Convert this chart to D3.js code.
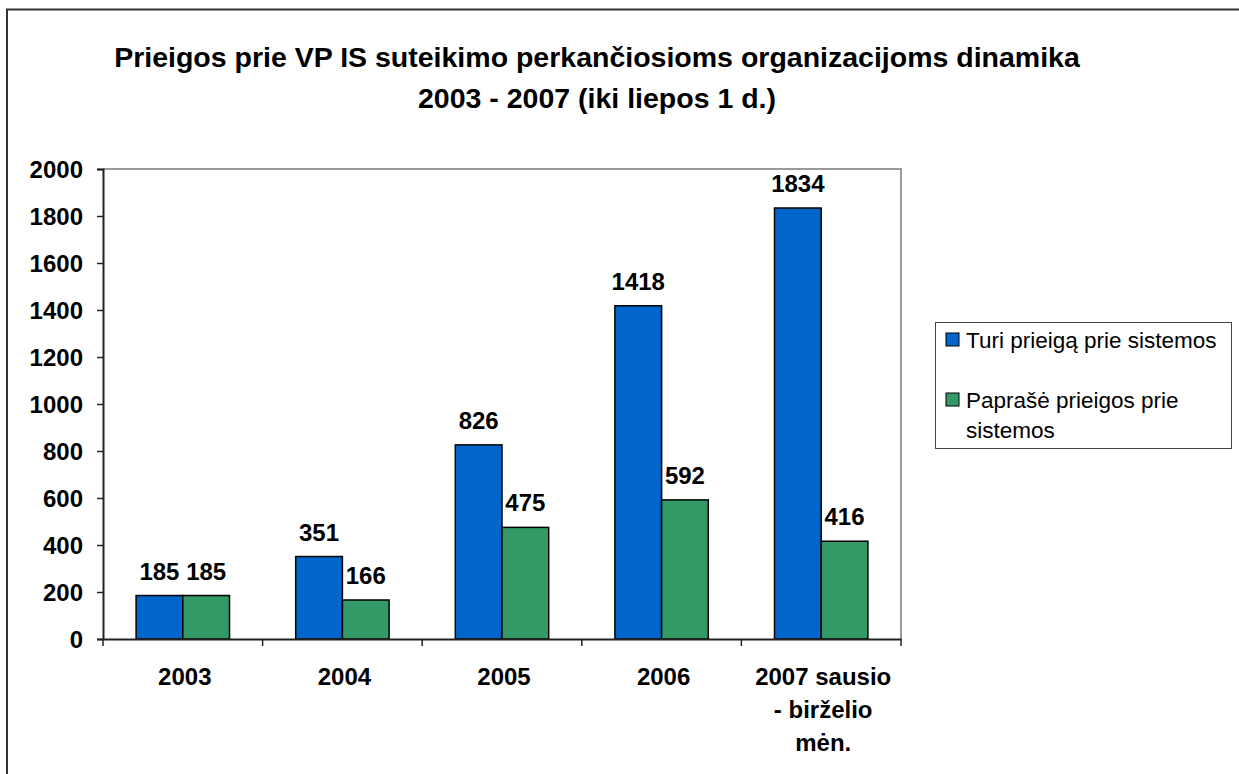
<!DOCTYPE html>
<html lang="lt">
<head>
<meta charset="UTF-8">
<title>Prieigos prie VP IS suteikimo dinamika</title>
<script src="https://d3js.org/d3.v7.min.js"></script>
<style>
    body { margin: 0; background: #fff; font-family: Arial, "Liberation Sans", sans-serif; }
    .tick text { font-weight: bold; font-size: 24px; fill: #000; }
    .label { font-weight: bold; font-size: 24px; text-anchor: middle; }
    .title { font-weight: bold; font-size: 28.5px; text-anchor: middle; }
    .legend text { font-size: 22.5px; }
</style>
</head>
<body>
<svg id="svg" width="1239" height="774"></svg>
<script>
    // data
    const categories = ["2003", "2004", "2005", "2006", "2007 sausio - birželio mėn."];
    const catLines = [["2003"], ["2004"], ["2005"], ["2006"], ["2007 sausio", "- birželio", "mėn."]];
    const seriesNames = ["Turi prieigą prie sistemos", "Paprašė prieigos prie sistemos"];
    const turi = [185, 351, 826, 1418, 1834];
    const paprase = [185, 166, 475, 592, 416];
    const yTicks = [0, 200, 400, 600, 800, 1000, 1200, 1400, 1600, 1800, 2000];
    const colors = ["#0066CC", "#339966"];

    const svg = d3.select("#svg");
    const plot = { left: 103, top: 169, right: 901, bottom: 639 };

    // outer frame
    svg.append("rect")
        .attr("x", 7).attr("y", 9.5)
        .attr("width", 1260).attr("height", 800)
        .attr("fill", "none").attr("stroke", "#333").attr("stroke-width", 2);

    // title
    svg.append("text").attr("class", "title").attr("x", 597).attr("y", 67)
        .text("Prieigos prie VP IS suteikimo perkančiosioms organizacijoms dinamika");
    svg.append("text").attr("class", "title").attr("x", 597).attr("y", 108)
        .text("2003 - 2007 (iki liepos 1 d.)");

    const x = d3.scaleBand().domain(categories).range([plot.left, plot.right]);
    const y = d3.scaleLinear().domain([0, 2000]).range([plot.bottom, plot.top]);

    const barW = 46.7;
    const offset = (x.bandwidth() - 2 * barW) / 2;

    // plot frame (top and right, gray)
    svg.append("path")
        .attr("d", `M${plot.left},${plot.top}H${plot.right}V${plot.bottom}`)
        .attr("fill", "none").attr("stroke", "#999").attr("stroke-width", 2);

    const table = categories.map((c, i) => ({ cat: c, values: [turi[i], paprase[i]] }));

    const groups = svg.append("g").selectAll("g")
        .data(table).enter().append("g");

    groups.selectAll("rect")
        .data(d => d.values.map((v, j) => ({ cat: d.cat, v, j })))
        .enter().append("rect")
        .attr("x", d => x(d.cat) + offset + d.j * barW)
        .attr("y", d => y(d.v))
        .attr("width", barW)
        .attr("height", d => y(0) - y(d.v))
        .attr("fill", d => colors[d.j])
        .attr("stroke", "#000").attr("stroke-width", 1.5);

    groups.selectAll("text")
        .data(d => d.values.map((v, j) => ({ cat: d.cat, v, j })))
        .enter().append("text")
        .attr("class", "label")
        .attr("x", d => x(d.cat) + offset + d.j * barW + barW / 2)
        .attr("y", d => y(d.v) - 16)
        .text(d => d.v);

    // y axis
    const yAxis = svg.append("g")
        .attr("transform", `translate(${plot.left},0)`)
        .call(d3.axisLeft(y).tickValues(yTicks).tickFormat(d3.format("d")).tickSize(6).tickPadding(14));
    yAxis.select(".domain").attr("stroke", "#222").attr("stroke-width", 2);
    yAxis.selectAll(".tick line").attr("stroke", "#222").attr("stroke-width", 1.5);
    yAxis.selectAll(".tick text").attr("dy", "0.36em");

    // x axis
    const xAxis = svg.append("g")
        .attr("transform", `translate(0,${plot.bottom})`)
        .call(d3.axisBottom(x).tickSize(0).tickFormat(""));
    xAxis.select(".domain").attr("stroke", "#222").attr("stroke-width", 2);
    xAxis.selectAll(".sep")
        .data(categories.concat(["end"]))
        .enter().append("line")
        .attr("x1", (d, i) => plot.left + i * x.step())
        .attr("x2", (d, i) => plot.left + i * x.step())
        .attr("y1", 0).attr("y2", 7)
        .attr("stroke", "#222").attr("stroke-width", 1.5);

    categories.forEach((c, i) => {
        catLines[i].forEach((line, k) => {
            svg.append("text").attr("class", "label")
                .attr("x", x(c) + x.bandwidth() / 2 + 2)
                .attr("y", 685 + k * 33)
                .text(line);
        });
    });

    // legend
    const legend = svg.append("g").attr("class", "legend");
    legend.append("rect")
        .attr("x", 935.5).attr("y", 322.5).attr("width", 296).attr("height", 126)
        .attr("fill", "#fff").attr("stroke", "#444").attr("stroke-width", 1);
    const legendItems = [
        { lines: ["Turi prieigą prie sistemos"], y: 339.5 },
        { lines: ["Paprašė prieigos prie", "sistemos"], y: 399.5 }
    ];
    legendItems.forEach((item, i) => {
        legend.append("rect")
            .attr("x", 946).attr("y", item.y - 6.5).attr("width", 13).attr("height", 13)
            .attr("fill", colors[i]).attr("stroke", "#000").attr("stroke-width", 1);
        item.lines.forEach((l, k) => {
            legend.append("text")
                .attr("x", 966).attr("y", item.y + 8 + k * 30)
                .text(l);
        });
    });
</script>
</body>
</html>
